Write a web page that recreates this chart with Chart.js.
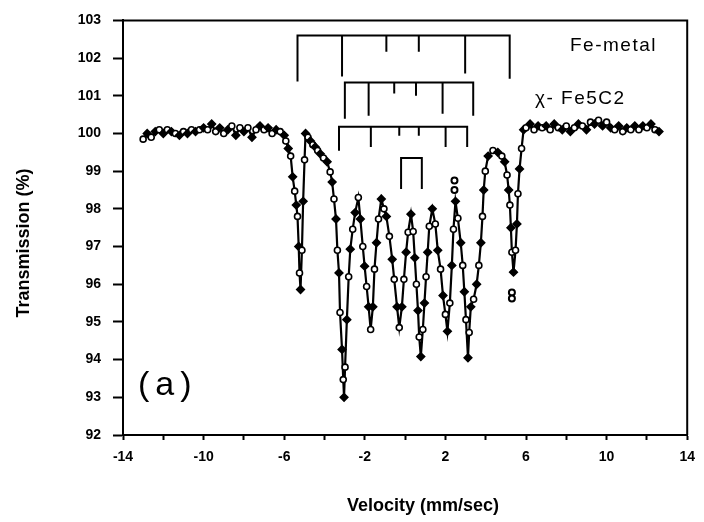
<!DOCTYPE html>
<html lang="en">
<head>
<meta charset="UTF-8">
<title>Mossbauer spectrum (a)</title>
<script src="https://cdn.jsdelivr.net/npm/chart.js"></script>
<style>
  html, body { margin: 0; padding: 0; background: #fff; }
  #wrap { width: 704px; height: 522px; position: relative; }
</style>
</head>
<body>
<div id="wrap"><canvas id="spectrum"></canvas></div>
<script>
// measured spectrum: velocity (mm/sec) and transmission (%)
const velocity = [
  -13.0, -12.8, -12.6, -12.4, -12.2, -12.0, -11.8, -11.6, -11.4, -11.2, -11.0, -10.8, -10.6, -10.4, -10.2,
  -10.0, -9.8, -9.6, -9.4, -9.2, -9.0, -8.8, -8.6, -8.4, -8.2, -8.0, -7.8, -7.6, -7.4, -7.2,
  -7.0, -6.8, -6.6, -6.4, -6.2, -6.0,
  -5.92, -5.80, -5.68, -5.58, -5.48, -5.40, -5.34, -5.28, -5.24, -5.19, -5.12, -5.06, -4.99, -4.94,
  -4.82, -4.70, -4.58, -4.46, -4.34, -4.21, -4.05, -3.87, -3.72, -3.62, -3.53, -3.43, -3.36, -3.28,
  -3.23, -3.13, -3.07, -3.03, -2.98, -2.89, -2.80, -2.72, -2.60, -2.48, -2.32, -2.22, -2.10, -2.01,
  -1.91, -1.81, -1.71, -1.60, -1.52, -1.42, -1.32, -1.18, -1.05, -0.93, -0.78, -0.64, -0.54, -0.40,
  -0.29, -0.16, -0.06, 0.05, 0.15, 0.29, 0.40, 0.48, 0.56, 0.64, 0.70, 0.78, 0.88, 0.96,
  1.04, 1.12, 1.20, 1.35, 1.50, 1.62, 1.76, 1.88, 2.00, 2.10, 2.22, 2.32, 2.40, 2.50,
  2.62, 2.76, 2.86, 2.94, 3.02, 3.12, 3.18, 3.26, 3.40, 3.55, 3.66, 3.76, 3.84, 3.90,
  3.98, 4.12, 4.36, 4.60, 4.80, 4.94, 5.06, 5.14, 5.20, 5.25, 5.30, 5.38, 5.48, 5.55,
  5.60, 5.68, 5.78, 5.88,
  6.0, 6.2, 6.4, 6.6, 6.8, 7.0, 7.2, 7.4, 7.6, 7.8, 8.0, 8.2, 8.4, 8.6, 8.8,
  9.0, 9.2, 9.4, 9.6, 9.8, 10.0, 10.2, 10.4, 10.6, 10.8, 11.0, 11.2, 11.4, 11.6, 11.8,
  12.0, 12.2, 12.4, 12.6
];
const transmission = [
  99.85, 100.0, 99.9, 100.05, 100.1, 100.0, 100.1, 100.05, 100.0, 99.95, 100.05, 100.0, 100.1, 100.05, 100.1,
  100.15, 100.1, 100.25, 100.05, 100.15, 100.0, 100.1, 100.2, 99.95, 100.15, 100.05, 100.15, 99.9, 100.1, 100.2,
  100.1, 100.15, 100.0, 100.1, 100.05, 99.95,
  99.8, 99.6, 99.4, 98.85, 98.47, 98.1, 97.8, 97.0, 96.3, 95.86, 96.9, 98.2, 99.3, 100.0,
  99.9, 99.8, 99.7, 99.64, 99.55, 99.46, 99.35, 99.25, 98.98, 98.71, 98.26, 97.73, 96.9, 96.3,
  95.25, 94.27, 93.47, 93.0, 93.8, 95.06, 96.2, 96.93, 97.46, 97.9, 98.3, 97.73, 97.0, 96.48,
  95.94, 95.4, 94.8, 95.4, 96.4, 97.1, 97.73, 98.26, 98.0, 97.8, 97.27, 96.66, 96.13, 95.4,
  94.85, 95.4, 96.13, 96.85, 97.38, 97.86, 97.4, 96.7, 96.0, 95.3, 94.6, 94.08, 94.8, 95.5,
  96.2, 96.85, 97.54, 98.0, 97.6, 96.9, 96.4, 95.7, 95.2, 94.75, 95.5, 96.5, 97.46, 98.2,
  97.75, 97.1, 96.5, 95.8, 95.06, 94.05, 94.72, 95.4, 95.6, 96.0, 96.5, 97.1, 97.8, 98.5,
  99.0, 99.4, 99.55, 99.5, 99.4, 99.25, 98.9, 98.5, 98.1, 97.5, 96.85, 96.32, 96.9, 97.6,
  98.4, 99.06, 99.6, 100.1,
  100.15, 100.25, 100.1, 100.2, 100.15, 100.2, 100.1, 100.25, 100.15, 100.1, 100.2, 100.05, 100.15, 100.25, 100.2,
  100.1, 100.3, 100.25, 100.35, 100.2, 100.3, 100.15, 100.1, 100.2, 100.05, 100.15, 100.1, 100.2, 100.1, 100.2,
  100.15, 100.25, 100.1, 100.05
];
// stray points lying off the curve
const strayVelocity = [2.45, 2.45, 5.3, 5.3];
const strayTransmission = [98.75, 98.5, 95.78, 95.62];

// stick diagrams: line positions (mm/sec), bar level and tick ends (%)
const feMetalLines = [-5.34, -3.13, -0.93, 0.68, 2.98, 5.19];
const feMetalBar = 102.6;
const feMetalEnds = [101.38, 101.51, 102.17, 102.17, 101.59, 101.45];
const carbideALines = [-2.99, -1.81, -0.54, 0.54, 1.86, 3.38];
const carbideABar = 101.35;
const carbideAEnds = [100.39, 100.47, 101.06, 101.0, 100.52, 100.47];
const carbideBLines = [-3.28, -1.7, -0.29, 0.68, 2.01, 3.08];
const carbideBBar = 100.18;
const carbideBEnds = [99.54, 99.64, 99.94, 99.94, 99.64, 99.64];
const doubletLines = [-0.2, 0.83];
const doubletBar = 99.35;
const doubletEnds = [98.53, 98.53];

const xLabelled = [-14, -10, -6, -2, 2, 6, 10, 14];
const FONT = 'Arial, "Liberation Sans", sans-serif';

function stickPoints(lines, bar, ends) {
  const n = lines.length - 1;
  const pts = [
    {x: lines[0], y: ends[0]}, {x: lines[0], y: bar},
    {x: lines[n], y: bar}, {x: lines[n], y: ends[n]}
  ];
  for (let i = 1; i < n; i++) {
    pts.push({x: lines[i], y: null});
    pts.push({x: lines[i], y: bar}, {x: lines[i], y: ends[i]});
  }
  return pts;
}

function stickSet(lines, bar, ends) {
  return {
    data: stickPoints(lines, bar, ends),
    showLine: true,
    spanGaps: false,
    borderColor: '#000',
    borderWidth: 2,
    pointRadius: 0,
    order: 2
  };
}

// frame on top/right plus text labels
const annotations = {
  id: 'annotations',
  afterDraw(chart) {
    const {ctx, chartArea: a} = chart;
    ctx.save();
    ctx.strokeStyle = '#000';
    ctx.lineWidth = 2;
    ctx.beginPath();
    ctx.moveTo(a.left, a.top);
    ctx.lineTo(a.right, a.top);
    ctx.lineTo(a.right, a.bottom);
    ctx.stroke();

    ctx.fillStyle = '#000';
    ctx.textBaseline = 'middle';
    ctx.textAlign = 'left';
    ctx.font = '19px ' + FONT;
    ctx.letterSpacing = '1.5px';
    ctx.fillText('Fe-metal', 570, 46);
    ctx.fillText('χ- Fe5C2', 535, 99);
    ctx.font = '34px ' + FONT;
    ctx.letterSpacing = '6px';
    ctx.fillText('(a)', 138, 386);

    ctx.letterSpacing = '0px';
    ctx.font = 'bold 18px ' + FONT;
    ctx.textAlign = 'center';
    ctx.fillText('Velocity (mm/sec)', 423, 506);
    ctx.translate(24, 243);
    ctx.rotate(-Math.PI / 2);
    ctx.fillText('Transmission (%)', 0, 0);
    ctx.restore();
  }
};

new Chart(document.getElementById('spectrum'), {
  type: 'scatter',
  data: {
    datasets: [
      {
        data: velocity.map((v, i) => ({x: v, y: transmission[i]})),
        showLine: true,
        borderColor: '#000',
        borderWidth: 2.2,
        pointStyle: c => c.dataIndex % 2 ? 'rectRot' : 'circle',
        pointRadius: c => c.dataIndex % 2 ? 3.8 : 3,
        pointBackgroundColor: c => c.dataIndex % 2 ? '#000' : '#fff',
        pointBorderColor: '#000',
        pointBorderWidth: 1.6,
        order: 1
      },
      {
        data: strayVelocity.map((v, i) => ({x: v, y: strayTransmission[i]})),
        showLine: false,
        pointStyle: 'circle',
        pointRadius: 3,
        pointBackgroundColor: '#fff',
        pointBorderColor: '#000',
        pointBorderWidth: 2,
        order: 1
      },
      stickSet(feMetalLines, feMetalBar, feMetalEnds),
      stickSet(carbideALines, carbideABar, carbideAEnds),
      stickSet(carbideBLines, carbideBBar, carbideBEnds),
      stickSet(doubletLines, doubletBar, doubletEnds)
    ]
  },
  options: {
    responsive: true,
    maintainAspectRatio: false,
    animation: false,
    layout: { padding: { top: 20, right: 9, left: 0, bottom: 0 } },
    plugins: { legend: { display: false }, tooltip: { enabled: false } },
    scales: {
      x: {
        type: 'linear',
        min: -14,
        max: 14,
        afterFit: s => { s.height = 87; },
        border: { color: '#000', width: 2 },
        grid: { drawOnChartArea: false, color: '#000', tickLength: 5, tickWidth: 2 },
        ticks: {
          stepSize: 2,
          autoSkip: false,
          maxRotation: 0,
          padding: 9,
          color: '#000',
          font: { family: FONT, size: 14, weight: 'bold' },
          callback: v => xLabelled.includes(v) ? String(v) : ''
        }
      },
      y: {
        min: 92,
        max: 103,
        afterFit: s => { s.width = 123; },
        border: { color: '#000', width: 2 },
        grid: { drawOnChartArea: false, color: '#000', tickLength: 10, tickWidth: 2 },
        ticks: {
          stepSize: 1,
          padding: 12,
          color: '#000',
          font: { family: FONT, size: 14, weight: 'bold' }
        }
      }
    }
  },
  plugins: [annotations]
});
</script>
</body>
</html>
